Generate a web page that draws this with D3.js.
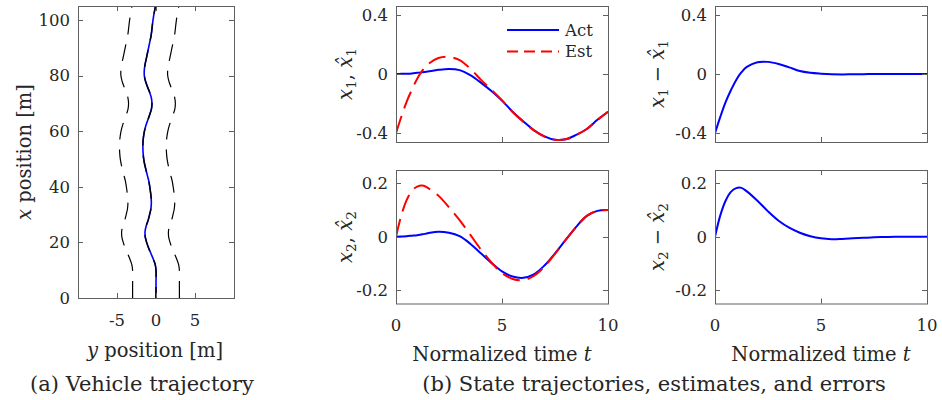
<!DOCTYPE html>
<html><head><meta charset="utf-8">
<script src="https://cdn.jsdelivr.net/npm/d3@7/dist/d3.min.js"></script>
<style>
body{margin:0;background:#fff}
svg{display:block}
text{font-family:"DejaVu Serif",serif;fill:#262626}
</style>
</head><body>
<svg id="c" width="942" height="400"></svg>
<script>
// ---------------- data ----------------
const timeT  = [0,0.25,0.5,0.75,1,1.25,1.5,2,2.5,3,3.5,4,4.5,5,5.5,6,6.5,7,7.5,8,8.5,9,9.5,10];
const x1Act  = [0,0.001,0.002,0.004,0.008,0.012,0.017,0.028,0.034,0.026,-0.008,-0.058,-0.115,-0.18,-0.255,-0.32,-0.379,-0.422,-0.445,-0.442,-0.412,-0.372,-0.31,-0.255];
const x1Est  = [-0.4,-0.289,-0.188,-0.106,-0.032,0.024,0.065,0.108,0.116,0.094,0.037,-0.038,-0.107,-0.178,-0.257,-0.323,-0.381,-0.423,-0.445,-0.442,-0.412,-0.372,-0.31,-0.255];
const x1Err  = [-0.4,-0.29,-0.19,-0.11,-0.04,0.012,0.048,0.08,0.082,0.068,0.045,0.02,0.008,0.002,-0.002,-0.003,-0.002,-0.001,0,0,0,0,0,0];
const x2Act  = [0,0.0005,0.002,0.004,0.006,0.009,0.013,0.019,0.015,0.002,-0.026,-0.062,-0.098,-0.13,-0.149,-0.154,-0.141,-0.108,-0.062,-0.012,0.037,0.078,0.097,0.1];
const x2Est  = [0,0.08,0.137,0.172,0.188,0.192,0.183,0.154,0.11,0.062,0.008,-0.047,-0.096,-0.136,-0.158,-0.162,-0.147,-0.112,-0.064,-0.013,0.037,0.078,0.097,0.1];
const x2Err  = [0,0.08,0.135,0.168,0.182,0.183,0.17,0.135,0.095,0.06,0.034,0.015,0.002,-0.006,-0.009,-0.008,-0.006,-0.004,-0.002,-0.001,0,0,0,0];

const posX        = [0,5,10,12,14,16,18,20,22,24,26,28,30,32,34,36,38,40,42,44,46,48,50,52,54,56,58,60,62,64,66,68,70,72,74,76,78,80,82,84,86,88,90,92,94,96,98,100,102,104,105];
const roadCenterY = [0,0,0,-0.1,-0.35,-0.65,-0.95,-1.2,-1.38,-1.4,-1.25,-1.0,-0.82,-0.66,-0.6,-0.62,-0.7,-0.8,-0.92,-1.1,-1.28,-1.45,-1.58,-1.65,-1.68,-1.67,-1.6,-1.48,-1.3,-1.05,-0.8,-0.58,-0.52,-0.6,-0.82,-1.1,-1.35,-1.5,-1.5,-1.4,-1.25,-1.1,-0.95,-0.8,-0.65,-0.55,-0.47,-0.38,-0.27,-0.13,-0.08];
const vehicleY    = [0,0,0,-0.1,-0.35,-0.65,-0.95,-1.2,-1.38,-1.4,-1.25,-1.0,-0.82,-0.66,-0.6,-0.62,-0.7,-0.8,-0.92,-1.1,-1.28,-1.45,-1.58,-1.65,-1.68,-1.67,-1.6,-1.48,-1.3,-1.05,-0.8,-0.58,-0.52,-0.6,-0.82,-1.1,-1.35,-1.5,-1.5,-1.4,-1.25,-1.1,-0.95,-0.8,-0.65,-0.55,-0.47,-0.38,-0.27,-0.13,-0.08];
const leftBoundY  = [-3,-3,-3,-3.1,-3.35,-3.65,-3.95,-4.2,-4.38,-4.4,-4.25,-4.0,-3.82,-3.66,-3.6,-3.62,-3.7,-3.8,-3.92,-4.1,-4.28,-4.45,-4.58,-4.65,-4.68,-4.67,-4.6,-4.48,-4.3,-4.05,-3.8,-3.58,-3.52,-3.6,-3.82,-4.1,-4.35,-4.5,-4.5,-4.4,-4.25,-4.1,-3.95,-3.8,-3.65,-3.55,-3.47,-3.38,-3.27,-3.13,-3.08];
const rightBoundY = [3,3,3,2.9,2.65,2.35,2.05,1.8,1.62,1.6,1.75,2.0,2.18,2.34,2.4,2.38,2.3,2.2,2.08,1.9,1.72,1.55,1.42,1.35,1.32,1.33,1.4,1.52,1.7,1.95,2.2,2.42,2.48,2.4,2.18,1.9,1.65,1.5,1.5,1.6,1.75,1.9,2.05,2.2,2.35,2.45,2.53,2.62,2.73,2.87,2.92];

const trajXTicks = [-5,0,5];
const trajYTicks = [0,20,40,60,80,100];
const timeTicks  = [0,5,10];
const x1Ticks    = [-0.4,0,0.4];
const x2Ticks    = [-0.2,0,0.2];
const legendLabels = ["Act","Est"];
const captions = ["(a) Vehicle trajectory","(b) State trajectories, estimates, and errors"];

// ---------------- drawing ----------------
const svg = d3.select("#c");
const BLUE="#0000ff", RED="#ff0000", AX="#606060";
let clipId=0;

function fmt(v){ if(v===0) return "0"; const s=String(Math.abs(v)); return (v<0?"-":"")+s; }

function panel(o){
  const xs=d3.scaleLinear().domain(o.xd).range([o.l,o.r]);
  const ys=d3.scaleLinear().domain(o.yd).range([o.b,o.t]);
  const g=svg.append("g");
  const id="clip"+(clipId++);
  g.append("clipPath").attr("id",id).append("rect")
    .attr("x",o.l).attr("y",o.t).attr("width",o.r-o.l).attr("height",o.b-o.t);
  const plot=g.append("g").attr("clip-path",`url(#${id})`);
  const ax=g.append("g");
  const TL=5;
  o.xt.forEach(v=>{
    const x=Math.round(xs(v))+0.5;
    ax.append("line").attr("x1",x).attr("x2",x).attr("y1",o.b).attr("y2",o.b-TL).attr("stroke",AX);
    ax.append("line").attr("x1",x).attr("x2",x).attr("y1",o.t).attr("y2",o.t+TL).attr("stroke",AX);
    if(o.xLab) g.append("text").attr("x",xs(v)).attr("y",o.b+22).attr("dy","0.36em")
      .attr("text-anchor","middle").attr("font-size",16.5).text(fmt(v));
  });
  o.yt.forEach(v=>{
    const y=Math.round(ys(v))+0.5;
    ax.append("line").attr("x1",o.l).attr("x2",o.l+TL).attr("y1",y).attr("y2",y).attr("stroke",AX);
    ax.append("line").attr("x1",o.r).attr("x2",o.r-TL).attr("y1",y).attr("y2",y).attr("stroke",AX);
    g.append("text").attr("x",o.l-8).attr("y",ys(v)).attr("dy","0.36em")
      .attr("text-anchor","end").attr("font-size",16.5).text(fmt(v));
  });
  ax.append("rect").attr("x",o.l+0.5).attr("y",o.t+0.5).attr("width",o.r-o.l).attr("height",o.b-o.t)
    .attr("fill","none").attr("stroke",AX).attr("stroke-width",1);
  return {g,plot,xs,ys,ax};
}

function mathLabel(parent, x, y, parts, size, rotate){
  const t=parent.append("text").attr("text-anchor","middle").attr("font-size",size)
    .attr("transform",`translate(${x},${y})`+(rotate?" rotate(-90)":"")).attr("dy","0.35em");
  let shifted=false;
  parts.forEach(p=>{
    const s=t.append("tspan").text(p.t);
    if(p.it) s.attr("font-style","italic");
    if(p.sub){ s.attr("font-size",size*0.7).attr("dy",size*0.22); shifted=true; }
    else if(shifted){ s.attr("dy",-size*0.22); shifted=false; }
  });
  return t;
}

// ---- Panel (a): vehicle trajectory
const A=panel({l:78,r:234,t:6,b:298,xd:[-10,10],yd:[0,105],xt:trajXTicks,yt:trajYTicks,xLab:true});
const trajLine=(arr)=>d3.line().x((d,i)=>A.xs(arr[i])).y((d,i)=>A.ys(posX[i])).curve(d3.curveCatmullRom.alpha(0.5))(posX);
A.plot.append("path").attr("d",trajLine(leftBoundY)).attr("fill","none").attr("stroke","#000").attr("stroke-width",1.2).attr("stroke-dasharray","17,10");
A.plot.append("path").attr("d",trajLine(rightBoundY)).attr("fill","none").attr("stroke","#000").attr("stroke-width",1.2).attr("stroke-dasharray","17,10");
A.plot.append("path").attr("d",trajLine(vehicleY)).attr("fill","none").attr("stroke",BLUE).attr("stroke-width",1.6);
A.plot.append("path").attr("d",trajLine(roadCenterY)).attr("fill","none").attr("stroke","#000").attr("stroke-width",1.4).attr("stroke-dasharray","17,10").attr("stroke-dashoffset",6);
mathLabel(svg,24,152,[{t:"x",it:true},{t:" position [m]"}],19.5,true);
mathLabel(svg,155,350,[{t:"y",it:true},{t:" position [m]"}],19.5,false);

// ---- Panels (b)
const tl=(P,arr)=>d3.line().x((d,i)=>P.xs(timeT[i])).y((d,i)=>P.ys(arr[i])).curve(d3.curveCatmullRom.alpha(0.5))(timeT);
const B1=panel({l:396,r:608,t:6,b:142,xd:[0,10],yd:[-0.46,0.46],xt:timeTicks,yt:x1Ticks,xLab:false});
B1.plot.append("path").attr("d",tl(B1,x1Act)).attr("fill","none").attr("stroke",BLUE).attr("stroke-width",2);
B1.plot.append("path").attr("d",tl(B1,x1Est)).attr("fill","none").attr("stroke",RED).attr("stroke-width",2).attr("stroke-dasharray","18,8");
// legend
const legY=[30,51.5];
legendLabels.forEach((lab,i)=>{
  const ln=svg.append("line").attr("x1",507).attr("x2",559).attr("y1",legY[i]).attr("y2",legY[i])
    .attr("stroke",i===0?BLUE:RED).attr("stroke-width",2);
  if(i===1) ln.attr("stroke-dasharray","11,6");
  svg.append("text").attr("x",565).attr("y",legY[i]).attr("dy","0.36em").attr("font-size",16.5).text(lab);
});
mathLabel(svg,345,74,[{t:"x",it:true},{t:"1",sub:true},{t:",  "},{t:"x\u0302",it:true},{t:"1",sub:true}],19.5,true);

const B2=panel({l:396,r:608,t:170,b:303.5,xd:[0,10],yd:[-0.25,0.25],xt:timeTicks,yt:x2Ticks,xLab:true});
B2.plot.append("path").attr("d",tl(B2,x2Act)).attr("fill","none").attr("stroke",BLUE).attr("stroke-width",2);
B2.plot.append("path").attr("d",tl(B2,x2Est)).attr("fill","none").attr("stroke",RED).attr("stroke-width",2).attr("stroke-dasharray","18,8");
mathLabel(svg,345,237,[{t:"x",it:true},{t:"2",sub:true},{t:",  "},{t:"x\u0302",it:true},{t:"2",sub:true}],19.5,true);
mathLabel(svg,502,354,[{t:"Normalized time "},{t:"t",it:true}],19.5,false);

const C1=panel({l:715,r:927,t:6,b:142,xd:[0,10],yd:[-0.46,0.46],xt:timeTicks,yt:x1Ticks,xLab:false});
C1.plot.append("path").attr("d",tl(C1,x1Err)).attr("fill","none").attr("stroke",BLUE).attr("stroke-width",2);
mathLabel(svg,657,74,[{t:"x",it:true},{t:"1",sub:true},{t:" \u2212 "},{t:"x\u0302",it:true},{t:"1",sub:true}],19.5,true);

const C2=panel({l:715,r:927,t:170,b:303.5,xd:[0,10],yd:[-0.25,0.25],xt:timeTicks,yt:x2Ticks,xLab:true});
C2.plot.append("path").attr("d",tl(C2,x2Err)).attr("fill","none").attr("stroke",BLUE).attr("stroke-width",2);
mathLabel(svg,657,237,[{t:"x",it:true},{t:"2",sub:true},{t:" \u2212 "},{t:"x\u0302",it:true},{t:"2",sub:true}],19.5,true);
mathLabel(svg,821,354,[{t:"Normalized time "},{t:"t",it:true}],19.5,false);

// captions
svg.append("text").attr("x",142).attr("y",384).attr("dy","0.35em").attr("text-anchor","middle").attr("font-size",21).text(captions[0]);
svg.append("text").attr("x",654).attr("y",384).attr("dy","0.35em").attr("text-anchor","middle").attr("font-size",21).text(captions[1]);
</script>
</body></html>
